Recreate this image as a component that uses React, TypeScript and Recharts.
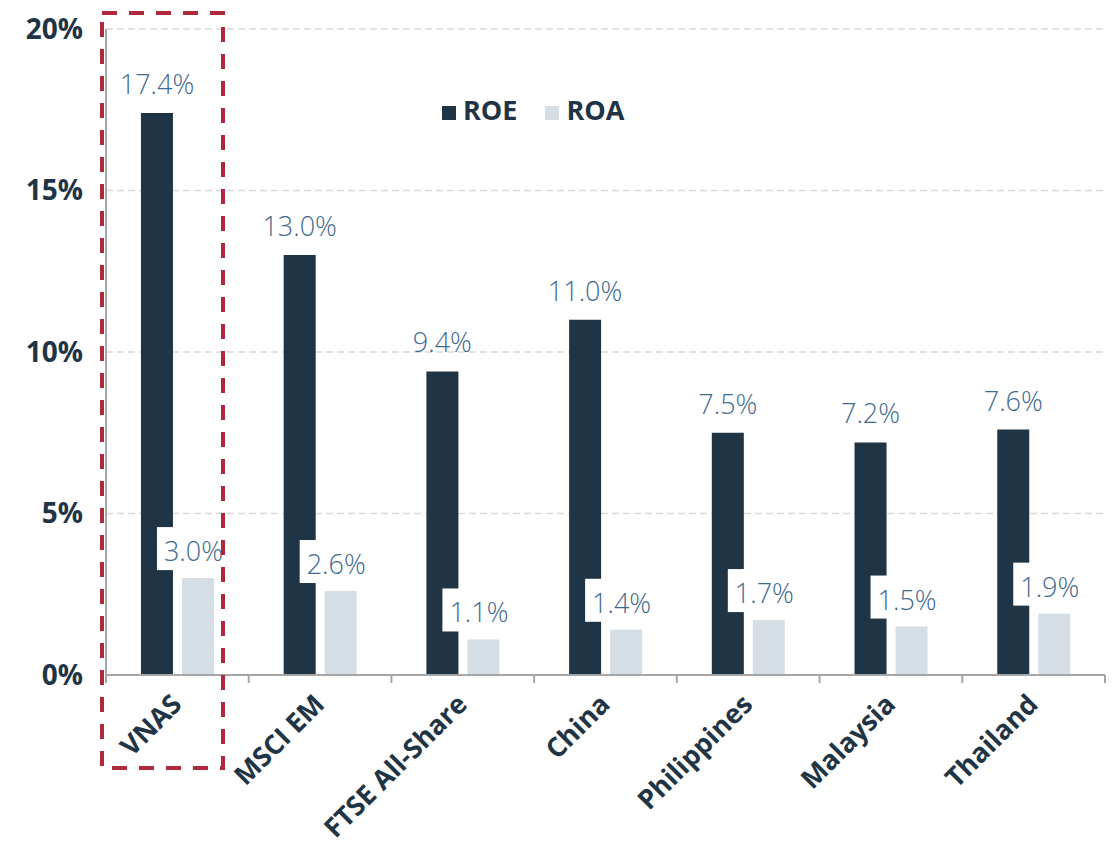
import React from 'react';
import {
  BarChart,
  Bar,
  XAxis,
  YAxis,
  CartesianGrid,
  Legend,
  LabelList,
} from 'recharts';

// values
const markets = ['VNAS', 'MSCI EM', 'FTSE All-Share', 'China', 'Philippines', 'Malaysia', 'Thailand'];
const roe = [17.4, 13.0, 9.4, 11.0, 7.5, 7.2, 7.6];
const roa = [3.0, 2.6, 1.1, 1.4, 1.7, 1.5, 1.9];
const yTicks = [0, 5, 10, 15, 20];
const seriesOrder = ['ROE', 'ROA'];

const data = markets.map((market, i) => ({ market, ROE: roe[i], ROA: roa[i] }));

const W = 1117;
const H = 846;
const MARGIN = { top: 29, right: 12, left: 0, bottom: 0 };
const Y_AXIS_W = 106;
const X_AXIS_H = 171;
const PLOT_W = W - Y_AXIS_W - MARGIN.right;
const BAND = PLOT_W / markets.length;

const NAVY = '#1f3445';
const PALE = '#d6dee5';
const LABEL = '#3f6a8f';
const AXIS = '#a6a6a6';
const HIGHLIGHT = '#ae2a3a';
const FONT = '"Open Sans", Lato, sans-serif';

const fmt = (v: number) => `${Number(v).toFixed(1)}%`;

const RoeLabel = (props: any) => {
  const x = Number(props.x);
  const y = Number(props.y);
  const width = Number(props.width);
  return (
    <text
      x={x + width / 2}
      y={y - 19}
      textAnchor="middle"
      fill={LABEL}
      fontSize={27}
      fontWeight={300}
      fontFamily={FONT}
    >
      {fmt(props.value)}
    </text>
  );
};

// ROA labels sit on a white box that cuts into the ROE bar
const RoaLabel = (props: any) => {
  const x = Number(props.x);
  const y = Number(props.y);
  return (
    <g>
      <rect x={x - 25} y={y - 51} width={78} height={43} fill="#ffffff" />
      <text
        x={x - 18}
        y={y - 17}
        textAnchor="start"
        fill={LABEL}
        fontSize={27}
        fontWeight={300}
        fontFamily={FONT}
      >
        {fmt(props.value)}
      </text>
    </g>
  );
};

const MarketTick = (props: any) => {
  const { x, y, payload, index } = props;
  const left = x - BAND / 2;
  return (
    <g>
      <line x1={left} x2={left} y1={y} y2={y + 8} stroke={AXIS} strokeWidth={2} />
      {index === markets.length - 1 && (
        <line x1={left + BAND} x2={left + BAND} y1={y} y2={y + 8} stroke={AXIS} strokeWidth={2} />
      )}
      <text
        transform={`translate(${x + 6},${y + 31}) rotate(-45)`}
        textAnchor="end"
        fill={NAVY}
        fontSize={27}
        fontWeight={700}
        fontFamily={FONT}
      >
        {payload.value}
      </text>
    </g>
  );
};

const LegendContent = ({ payload }: any) => {
  const items = [...(payload || [])].sort(
    (a: any, b: any) => seriesOrder.indexOf(a.value) - seriesOrder.indexOf(b.value)
  );
  return (
    <div
      style={{
        display: 'flex',
        fontFamily: FONT,
        fontWeight: 700,
        fontSize: 27,
        lineHeight: '27px',
        color: NAVY,
      }}
    >
      {items.map((p: any, i: number) => (
        <div key={p.value} style={{ display: 'flex', alignItems: 'center', marginLeft: i ? 28 : 0 }}>
          <span
            style={{
              display: 'inline-block',
              width: 14,
              height: 14,
              background: p.color,
              marginRight: 7,
              marginTop: 6,
            }}
          />
          {p.value}
        </div>
      ))}
    </div>
  );
};

export default function App() {
  return (
    <div style={{ position: 'absolute', left: 0, top: 0, width: W, height: H, background: '#fff' }}>
      <BarChart
        width={W}
        height={H}
        data={data}
        margin={MARGIN}
        barCategoryGap="24.5%"
        barGap={9}
      >
        <CartesianGrid vertical={false} stroke="#d9d9d9" strokeDasharray="7 4" strokeWidth={1.5} />
        <XAxis
          dataKey="market"
          height={X_AXIS_H}
          interval={0}
          tickLine={false}
          tickSize={0}
          tickMargin={0}
          axisLine={{ stroke: AXIS, strokeWidth: 2 }}
          tick={<MarketTick />}
        />
        <YAxis
          width={Y_AXIS_W}
          domain={[0, 20]}
          ticks={yTicks}
          tickFormatter={(v: number) => `${v}%`}
          tickLine={false}
          tickSize={0}
          tickMargin={23}
          axisLine={{ stroke: AXIS, strokeWidth: 2 }}
          tick={{ fill: NAVY, fontSize: 28, fontWeight: 700, fontFamily: FONT }}
        />
        <Legend
          verticalAlign="middle"
          align="center"
          content={<LegendContent />}
          wrapperStyle={{ position: 'absolute', left: 442, top: 96, width: 'auto' }}
        />
        <Bar dataKey="ROE" fill={NAVY} isAnimationActive={false}>
          <LabelList dataKey="ROE" content={<RoeLabel />} />
        </Bar>
        <Bar dataKey="ROA" fill={PALE} isAnimationActive={false}>
          <LabelList dataKey="ROA" content={<RoaLabel />} />
        </Bar>
      </BarChart>
      {/* dashed highlight around the VNAS column */}
      <svg
        width={W}
        height={H}
        style={{ position: 'absolute', left: 0, top: 0, pointerEvents: 'none' }}
      >
        <rect
          x={102}
          y={13}
          width={121}
          height={755}
          fill="none"
          stroke={HIGHLIGHT}
          strokeWidth={4}
          strokeDasharray="15 12"
        />
      </svg>
    </div>
  );
}
